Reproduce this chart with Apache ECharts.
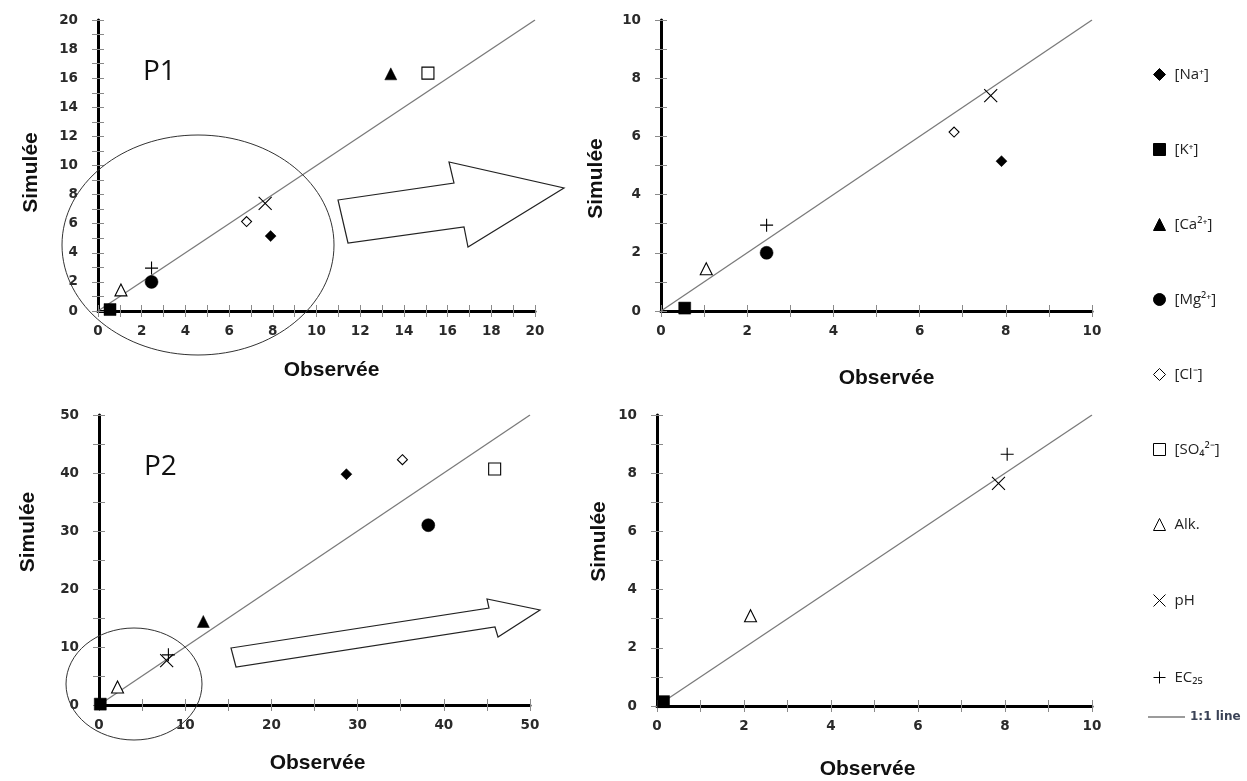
<!DOCTYPE html>
<html><head><meta charset="utf-8">
<script src="https://cdn.jsdelivr.net/npm/echarts@6/dist/echarts.min.js"></script>
<style>html,body{margin:0;padding:0;background:#fff}#c{width:1247px;height:781px}</style>
</head><body><div id="c"></div>
<script>
// ---- data ----
const species = ['[Na⁺]', '[K⁺]', '[Ca²⁺]', '[Mg²⁺]', '[Cl⁻]', '[SO₄²⁻]', 'Alk.', 'pH', 'EC₂₅'];
const p1Observed  = [7.9, 0.55, 13.4, 2.45, 6.8, 15.1, 1.05, 7.65, 2.45];
const p1Simulated = [5.15, 0.1, 16.3, 2.0, 6.15, 16.35, 1.45, 7.4, 2.95];
const p2Observed  = [28.7, 0.15, 12.1, 38.2, 35.2, 45.9, 2.15, 7.85, 8.05];
const p2Simulated = [39.8, 0.15, 14.4, 31.0, 42.3, 40.7, 3.1, 7.65, 8.65];
const panelMax = [20, 10, 50, 10];
const panelStep = [2, 2, 10, 2];
const panelTitles = ['P1', '', 'P2', ''];
const xAxisTitle = 'Observée';
const yAxisTitle = 'Simulée';
const lineLabel = '1:1 line';

// ---- styles ----
const symbolList = ['diamond', 'rect', 'triangle', 'circle', 'diamond', 'rect', 'triangle',
  'path://M0,0L10,10M10,0L0,10', 'path://M5,0L5,10M0,5L10,5'];
const fillList = ['#000', '#000', '#000', '#000', '#fff', '#fff', '#fff', 'none', 'none'];
const sizeList = [11, 12, 12, 13, 10, 12, 12, 13, 13];
const grids = [
  {left: 98, top: 20, width: 437, height: 291},
  {left: 661, top: 20, width: 431, height: 291},
  {left: 99, top: 415, width: 431, height: 290},
  {left: 657, top: 415, width: 435, height: 291}
];
const xNameGap = [49, 57, 48, 53];
const xNamePad = [[0,0,0,30],[0,0,0,20],[0,0,0,6],[0,14,0,0]];
const yNameGap = [56, 54, 60, 47];
const yNamePad = [[0,14,0,0],[0,26,0,0],[0,0,0,56],[0,0,0,38]];

const panelData = [
  [p1Observed, p1Simulated], [p1Observed, p1Simulated],
  [p2Observed, p2Simulated], [p2Observed, p2Simulated]
];

const labelStyle = {fontFamily: 'DejaVu Sans', fontWeight: 'bold', fontSize: 13.5, color: '#2a2a2a'};
const nameStyle = {fontFamily: 'Liberation Sans', fontWeight: 'bold', fontSize: 21, color: '#111'};
const tickStyle = {color: '#8a8a8a', width: 1};

const xAxes = [], yAxes = [], series = [];
grids.forEach((g, p) => {
  const common = {
    type: 'value', gridIndex: p, min: 0, max: panelMax[p], interval: panelStep[p],
    splitLine: {show: false},
    axisLine: {show: true, onZero: false, lineStyle: {color: '#000', width: 3}},
    axisTick: {show: true, length: 6, lineStyle: tickStyle},
    minorTick: {show: true, splitNumber: 2, length: 6, lineStyle: tickStyle},
    minorSplitLine: {show: false}
  };
  xAxes.push(Object.assign({}, common, {
    position: 'bottom',
    name: xAxisTitle, nameLocation: 'middle', nameGap: xNameGap[p],
    nameTextStyle: Object.assign({padding: xNamePad[p]}, nameStyle),
    axisLabel: Object.assign({margin: 13}, labelStyle)
  }));
  yAxes.push(Object.assign({}, common, {
    position: 'left',
    name: yAxisTitle, nameLocation: 'middle', nameGap: yNameGap[p],
    nameTextStyle: Object.assign({padding: yNamePad[p]}, nameStyle),
    axisLabel: Object.assign({margin: 20}, labelStyle)
  }));
  series.push({
    name: lineLabel, type: 'line', xAxisIndex: p, yAxisIndex: p, z: 1,
    data: [[0, 0], [panelMax[p], panelMax[p]]], symbol: 'none', showSymbol: false, silent: true,
    lineStyle: {color: '#7a7a7a', width: 1.3}, itemStyle: {color: '#7a7a7a'}
  });
  const [obs, sim] = panelData[p];
  species.forEach((name, i) => {
    series.push({
      name, type: 'scatter', xAxisIndex: p, yAxisIndex: p, z: 3, clip: true,
      data: [[obs[i], sim[i]]],
      symbol: symbolList[i], symbolSize: sizeList[i], symbolKeepAspect: true,
      itemStyle: {color: fillList[i], borderColor: '#000', borderWidth: i >= 4 ? 1.1 : 0.5, opacity: 1}
    });
  });
});
// inner tick marks, so that the ticks cross the axis lines as in the original
grids.forEach((g, p) => {
  const inner = {
    type: 'value', gridIndex: p, min: 0, max: panelMax[p], interval: panelStep[p],
    splitLine: {show: false}, axisLine: {show: false, onZero: false}, axisLabel: {show: false},
    axisTick: {show: true, inside: true, length: 6, lineStyle: tickStyle},
    minorTick: {show: true, splitNumber: 2, length: 6, lineStyle: tickStyle}
  };
  xAxes.push(Object.assign({position: 'bottom', offset: 0}, inner));
  yAxes.push(Object.assign({position: 'left', offset: 0}, inner));
});

const titles = [];
panelTitles.forEach((t, p) => {
  if (t) titles.push({text: t, left: grids[p].left + 40, top: grids[p].top + 33,
    textStyle: {fontFamily: 'Open Sans', fontWeight: 'normal', fontSize: 28, color: '#111'}});
});

const chart = echarts.init(document.getElementById('c'), null, {renderer: 'canvas'});
chart.setOption({
  backgroundColor: '#fff',
  animation: false,
  title: titles,
  grid: grids,
  xAxis: xAxes,
  yAxis: yAxes,
  legend: [
    {data: species, orient: 'vertical', left: 1146, top: 62, itemGap: 60,
     itemWidth: 12, itemHeight: 12, selectedMode: false, symbolKeepAspect: true,
     itemStyle: {borderWidth: 1},
     textStyle: {fontFamily: 'Open Sans', fontSize: 15, color: '#222', padding: [0, 0, 0, 4]}},
    {data: [{name: lineLabel, icon: 'path://M0,0H37V1.4H0Z'}], orient: 'vertical', left: 1143, top: 706,
     itemWidth: 37, itemHeight: 14, selectedMode: false, symbolKeepAspect: true,
     itemStyle: {color: '#7a7a7a'},
     textStyle: {fontFamily: 'DejaVu Sans', fontWeight: 'bold', fontSize: 12, color: '#3a4256'}}
  ],
  series,
  graphic: [
    {type: 'ellipse', z: 10, shape: {cx: 198, cy: 245, rx: 136, ry: 110},
     style: {fill: 'none', stroke: '#333', lineWidth: 1}},
    {type: 'ellipse', z: 10, shape: {cx: 134, cy: 684, rx: 68, ry: 56},
     style: {fill: 'none', stroke: '#333', lineWidth: 1}},
    {type: 'polygon', z: 10, shape: {points: [[338, 200], [454, 183], [449, 162], [564, 188], [468, 247], [464, 227], [348, 243]]},
     style: {fill: '#fff', stroke: '#222', lineWidth: 1.2}},
    {type: 'polygon', z: 10, shape: {points: [[231, 648], [489, 608], [487, 599], [540, 610], [498, 637], [495, 627], [236, 667]]},
     style: {fill: '#fff', stroke: '#222', lineWidth: 1.2}}
  ]
});
</script></body></html>
